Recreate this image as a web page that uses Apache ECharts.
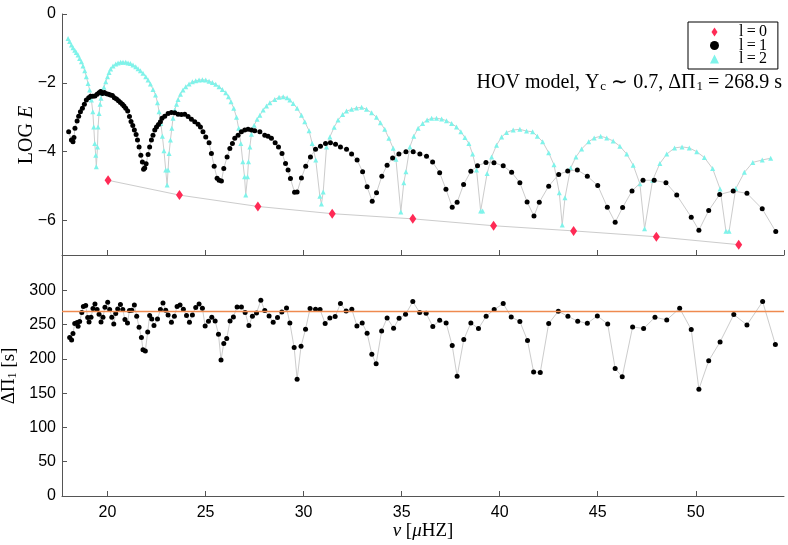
<!DOCTYPE html>
<html>
<head>
<meta charset="utf-8">
<script src="https://cdn.jsdelivr.net/npm/echarts@6/dist/echarts.min.js"></script>
<style>
  html, body { margin: 0; padding: 0; background: #fff; }
  #main { width: 788px; height: 545px; }
</style>
</head>
<body>
<div id="main"></div>
<script>
// l=0 modes
var nu0 = [20.03, 23.67, 27.67, 31.46, 35.57, 39.69, 43.77, 47.99, 52.19];
var logE0 = [-4.83, -5.26, -5.59, -5.80, -5.95, -6.15, -6.30, -6.47, -6.70];

// l=1 modes
var nu1 = [18.02, 18.16, 18.24, 18.29, 18.34, 18.45, 18.53, 18.62, 18.72, 18.82,
  18.92, 19.04, 19.14, 19.25, 19.36, 19.47, 19.57, 19.65, 19.74, 19.84,
  19.95, 20.05, 20.15, 20.25, 20.35, 20.46, 20.56, 20.66, 20.76, 20.84,
  20.93, 21.03, 21.12, 21.20, 21.29, 21.37, 21.46, 21.53, 21.61, 21.70,
  21.78, 21.84, 21.90, 21.97, 22.07, 22.15, 22.24, 22.32, 22.41, 22.50,
  22.60, 22.70, 22.78, 22.92, 23.09, 23.26, 23.43, 23.60, 23.77, 23.94,
  24.11, 24.28, 24.45, 24.62, 24.74, 24.87, 25.01, 25.18, 25.30, 25.44,
  25.59, 25.69, 25.81, 25.93, 26.10, 26.24, 26.37, 26.49, 26.66, 26.83,
  27.00, 27.17, 27.34, 27.51, 27.77, 28.02, 28.19, 28.36, 28.55, 28.72,
  28.90, 29.08, 29.21, 29.33, 29.54, 29.67, 29.89, 30.11, 30.35, 30.61,
  30.86, 31.12, 31.37, 31.63, 31.88, 32.19, 32.45, 32.73, 33.01, 33.24,
  33.50, 33.72, 33.99, 34.26, 34.54, 34.86, 35.22, 35.59, 35.93, 36.27,
  36.58, 36.94, 37.26, 37.58, 37.83, 38.16, 38.53, 38.87, 39.30, 39.71,
  40.18, 40.61, 41.03, 41.40, 41.75, 42.02, 42.50, 43.01, 43.47, 43.96,
  44.47, 45.00, 45.49, 45.89, 46.27, 46.75, 47.31, 47.88, 48.48, 49.03,
  49.77, 50.16, 50.66, 51.22, 51.91, 52.61, 53.39, 54.08];
var logE1 = [-3.42, -3.66, -3.71, -3.59, -3.32, -3.11, -2.97, -2.84, -2.74, -2.62,
  -2.50, -2.43, -2.39, -2.39, -2.38, -2.33, -2.29, -2.25, -2.31, -2.28,
  -2.32, -2.33, -2.35, -2.37, -2.43, -2.47, -2.52, -2.57, -2.62, -2.67,
  -2.74, -2.82, -2.98, -3.12, -3.24, -3.37, -3.50, -3.66, -3.86, -4.10,
  -4.30, -4.51, -4.47, -4.35, -4.08, -3.86, -3.66, -3.52, -3.37, -3.28,
  -3.21, -3.13, -3.03, -2.97, -2.89, -2.86, -2.87, -2.91, -2.92, -2.91,
  -2.98, -3.06, -3.13, -3.20, -3.28, -3.42, -3.57, -3.74, -4.05, -4.42,
  -4.77, -4.83, -4.85, -4.49, -4.15, -3.91, -3.76, -3.61, -3.52, -3.42,
  -3.37, -3.35, -3.37, -3.39, -3.42, -3.52, -3.55, -3.61, -3.74, -3.86,
  -4.05, -4.34, -4.53, -4.78, -5.18, -5.17, -4.76, -4.42, -4.15, -3.93,
  -3.84, -3.76, -3.74, -3.78, -3.86, -3.93, -4.07, -4.24, -4.58, -5.02,
  -5.44, -5.19, -4.71, -4.39, -4.18, -4.07, -4.00, -4.00, -4.07, -4.13,
  -4.30, -4.61, -5.09, -5.61, -5.47, -4.95, -4.57, -4.41, -4.31, -4.32,
  -4.41, -4.60, -4.90, -5.46, -5.87, -5.47, -5.00, -4.66, -4.56, -4.53,
  -4.71, -4.98, -5.61, -6.05, -5.62, -5.14, -4.83, -4.83, -4.90, -5.26,
  -5.90, -6.28, -5.71, -5.24, -5.14, -5.21, -5.66, -6.32];

// l=2 modes
var nu2 = [17.99, 18.07, 18.16, 18.24, 18.33, 18.41, 18.50, 18.58, 18.67, 18.75,
  18.84, 18.92, 19.01, 19.09, 19.18, 19.25, 19.30, 19.35, 19.40, 19.43,
  19.49, 19.52, 19.57, 19.62, 19.67, 19.74, 19.82, 19.91, 20.00, 20.08,
  20.16, 20.28, 20.42, 20.54, 20.67, 20.79, 20.93, 21.05, 21.17, 21.30,
  21.44, 21.56, 21.68, 21.81, 21.95, 22.07, 22.19, 22.32, 22.45, 22.55,
  22.63, 22.72, 22.80, 22.88, 22.97, 23.04, 23.09, 23.14, 23.21, 23.28,
  23.34, 23.43, 23.52, 23.60, 23.72, 23.85, 23.99, 24.16, 24.33, 24.50,
  24.67, 24.84, 25.01, 25.18, 25.35, 25.52, 25.69, 25.86, 26.03, 26.17,
  26.30, 26.44, 26.58, 26.69, 26.80, 26.90, 26.99, 27.05, 27.14, 27.19,
  27.26, 27.34, 27.48, 27.63, 27.77, 27.94, 28.11, 28.28, 28.53, 28.75,
  28.96, 29.16, 29.30, 29.47, 29.67, 29.89, 30.06, 30.28, 30.44, 30.62,
  30.83, 30.91, 31.00, 31.17, 31.34, 31.56, 31.76, 31.99, 32.19, 32.45,
  32.70, 32.96, 33.21, 33.47, 33.72, 33.92, 34.14, 34.35, 34.57, 34.71,
  34.96, 35.11, 35.22, 35.42, 35.62, 35.84, 36.07, 36.30, 36.53, 36.78,
  37.04, 37.29, 37.55, 37.80, 38.02, 38.23, 38.43, 38.62, 38.82, 39.03,
  39.13, 39.36, 39.59, 39.84, 40.10, 40.35, 40.69, 41.03, 41.37, 41.68,
  41.92, 42.19, 42.50, 42.77, 43.04, 43.19, 43.33, 43.62, 43.89, 44.18,
  44.54, 44.82, 45.15, 45.46, 45.79, 46.13, 46.48, 46.81, 47.15, 47.39,
  47.80, 48.17, 48.52, 48.92, 49.30, 49.67, 50.05, 50.44, 50.86, 51.24,
  51.54, 51.70, 52.04, 52.48, 52.91, 53.39, 53.82];
var logE2 = [-0.71, -0.80, -0.90, -0.98, -1.05, -1.12, -1.19, -1.29, -1.39, -1.51,
  -1.65, -1.82, -2.02, -2.21, -2.50, -2.84, -3.28, -3.76, -4.10, -4.44,
  -3.86, -3.28, -2.89, -2.62, -2.45, -2.31, -2.13, -1.97, -1.82, -1.70,
  -1.60, -1.51, -1.45, -1.42, -1.40, -1.40, -1.40, -1.42, -1.44, -1.48,
  -1.53, -1.59, -1.65, -1.72, -1.82, -1.92, -2.03, -2.19, -2.35, -2.58,
  -2.84, -3.18, -3.55, -3.97, -4.53, -4.97, -4.53, -4.05, -3.66, -3.32,
  -3.03, -2.79, -2.62, -2.48, -2.33, -2.21, -2.11, -2.03, -1.97, -1.94,
  -1.92, -1.91, -1.92, -1.95, -1.99, -2.04, -2.11, -2.19, -2.29, -2.40,
  -2.55, -2.74, -3.00, -3.32, -3.76, -4.29, -4.73, -5.26, -4.73, -4.29,
  -3.86, -3.49, -3.23, -3.06, -2.94, -2.79, -2.67, -2.58, -2.48, -2.42,
  -2.40, -2.43, -2.50, -2.60, -2.74, -2.94, -3.13, -3.39, -3.76, -4.24,
  -5.29, -5.52, -5.17, -3.86, -3.57, -3.29, -3.08, -2.92, -2.82, -2.77,
  -2.73, -2.71, -2.77, -2.87, -3.00, -3.16, -3.35, -3.61, -3.90, -4.22,
  -5.75, -4.90, -4.58, -3.86, -3.55, -3.32, -3.18, -3.08, -3.03, -3.03,
  -3.05, -3.10, -3.18, -3.28, -3.42, -3.59, -3.76, -4.07, -4.53, -5.72,
  -5.72, -4.63, -4.15, -3.81, -3.57, -3.44, -3.37, -3.35, -3.40, -3.42,
  -3.55, -3.71, -4.03, -4.38, -5.19, -6.13, -5.34, -4.47, -4.15, -3.92,
  -3.71, -3.60, -3.55, -3.60, -3.69, -3.84, -4.07, -4.39, -4.93, -6.24,
  -4.83, -4.34, -4.07, -3.89, -3.86, -3.89, -4.00, -4.17, -4.49, -5.08,
  -6.31, -6.31, -5.07, -4.60, -4.31, -4.24, -4.19];

// period spacing of the l=1 modes
var nuP = [18.07, 18.17, 18.24, 18.33, 18.45, 18.50, 18.58, 18.69, 18.77, 18.89,
  18.99, 19.06, 19.16, 19.26, 19.36, 19.47, 19.57, 19.67, 19.77, 19.87,
  20.01, 20.11, 20.22, 20.32, 20.42, 20.52, 20.66, 20.78, 20.89, 21.02,
  21.12, 21.24, 21.37, 21.49, 21.61, 21.73, 21.81, 21.93, 22.05, 22.15,
  22.26, 22.37, 22.55, 22.70, 22.83, 22.97, 23.09, 23.26, 23.41, 23.55,
  23.70, 23.87, 24.03, 24.18, 24.33, 24.50, 24.67, 24.84, 24.98, 25.15,
  25.32, 25.49, 25.66, 25.79, 25.93, 26.08, 26.25, 26.42, 26.61, 26.83,
  27.02, 27.21, 27.39, 27.60, 27.82, 28.02, 28.24, 28.45, 28.67, 28.89,
  29.13, 29.30, 29.52, 29.67, 29.87, 30.10, 30.33, 30.61, 30.84, 31.10,
  31.34, 31.61, 31.88, 32.17, 32.46, 32.72, 32.99, 33.24, 33.48, 33.70,
  33.98, 34.26, 34.59, 34.87, 35.20, 35.57, 35.92, 36.25, 36.59, 36.94,
  37.27, 37.58, 37.83, 38.17, 38.53, 38.92, 39.31, 39.72, 40.18, 40.59,
  41.03, 41.42, 41.73, 42.07, 42.50, 42.99, 43.48, 43.98, 44.47, 44.98,
  45.51, 45.89, 46.25, 46.78, 47.34, 47.92, 48.52, 49.18, 49.77, 50.16,
  50.66, 51.24, 51.94, 52.61, 53.41, 54.06];
var dP1 = [231.1, 227.6, 236.9, 251.5, 253.0, 247.6, 254.4, 267.5, 276.2, 277.7,
  260.2, 253.8, 260.7, 273.3, 280.0, 271.9, 265.0, 253.8, 260.7, 275.2,
  282.5, 271.9, 260.7, 250.9, 266.0, 272.8, 279.1, 271.9, 257.3, 252.4,
  270.4, 270.9, 278.6, 262.1, 246.1, 231.1, 213.1, 211.6, 239.3, 263.1,
  258.2, 248.5, 258.2, 271.9, 281.5, 270.9, 264.1, 253.4, 262.1, 276.2,
  278.6, 272.3, 263.1, 253.4, 264.1, 274.8, 280.0, 273.8, 248.0, 254.8,
  260.7, 255.3, 235.9, 198.5, 222.4, 229.6, 255.3, 261.1, 275.7, 275.7,
  267.5, 248.5, 262.1, 267.0, 285.4, 270.4, 262.6, 253.4, 260.2, 268.4,
  274.2, 252.4, 216.5, 170.4, 218.4, 243.2, 273.3, 272.3, 271.9, 251.5,
  259.7, 261.7, 280.6, 269.9, 272.3, 248.0, 252.4, 237.4, 206.8, 192.7,
  240.7, 259.7, 244.7, 259.2, 265.0, 283.5, 267.5, 266.5, 247.1, 256.3,
  252.4, 219.4, 174.7, 228.2, 252.4, 244.2, 262.1, 271.9, 280.6, 261.1,
  254.4, 226.7, 181.0, 180.1, 251.5, 269.4, 262.1, 254.8, 251.9, 262.6,
  250.9, 185.9, 173.8, 246.6, 244.2, 260.7, 256.8, 273.8, 242.7, 155.8,
  197.1, 224.7, 264.6, 249.5, 283.5, 220.9];
var dPmean = 268.9;

function pairs(xs, ys) {
  return xs.map(function (x, i) { return [x, ys[i]]; });
}

var myChart = echarts.init(document.getElementById('main'), null, { renderer: 'canvas' });

var serif = 'Liberation Serif';
var sans = 'Liberation Sans';
var axisGrey = '#555555';
var lineGrey = '#cccccc';

function minus(v) {
  return v < 0 ? '\u2212' + (-v) : String(v);
}

var option = {
  animation: false,
  backgroundColor: '#ffffff',
  grid: [
    { left: 62, right: 4, top: 14, height: 241, containLabel: false, outerBoundsMode: 'none' },
    { left: 62, right: 4, top: 256, height: 240, containLabel: false, outerBoundsMode: 'none' }
  ],
  legend: {
    data: [
      { name: 'l=0', icon: 'path://M0,-3L2,0L0,3L-2,0Z' },
      { name: 'l=1', icon: 'circle' },
      { name: 'l=2', icon: 'triangle' }
    ],
    formatter: function (name) { return name.replace('=', '\u2009=\u2009'); },
    orient: 'vertical',
    left: 688,
    top: 22,
    padding: [2, 11, 2, 22],
    itemGap: -2.5,
    itemWidth: 9,
    itemHeight: 9,
    borderColor: '#000',
    borderWidth: 1,
    borderRadius: 0,
    backgroundColor: '#fff',
    textStyle: { fontFamily: serif, fontSize: 16, color: '#000', lineHeight: 14, padding: [0, 0, 0, 15] }
  },
  graphic: [
    {
      type: 'text',
      right: 6,
      top: 73,
      style: {
        text: 'HOV model, Y{sub|c} \u223c 0.7, \u0394\u03a0{sub|1} = 268.9 s',
        fontFamily: serif,
        fontSize: 20,
        fill: '#000',
        rich: {
          sub: { fontSize: 13, fontFamily: serif, verticalAlign: 'bottom', padding: [7, 0, 0, 1] }
        }
      }
    },
    {
      // y title of the upper panel
      type: 'text',
      x: 27,
      y: 135,
      rotation: Math.PI / 2,
      style: {
        text: 'LOG {i|E}',
        fontFamily: serif,
        fontSize: 20,
        fill: '#000',
        align: 'center',
        verticalAlign: 'middle',
        rich: { i: { fontStyle: 'italic', fontFamily: serif, fontSize: 20 } }
      }
    }
  ],
  xAxis: [
    {
      type: 'value', gridIndex: 0, min: 17.68, max: 54.5, splitNumber: 7,
      axisLine: { onZero: false, lineStyle: { color: axisGrey } },
      axisTick: { inside: true, length: 5, lineStyle: { color: axisGrey } },
      axisLabel: { show: false },
      splitLine: { show: false }
    },
    {
      type: 'value', gridIndex: 1, min: 17.68, max: 54.5, splitNumber: 7,
      axisLine: { onZero: false, lineStyle: { color: axisGrey } },
      axisTick: { inside: true, length: 5, lineStyle: { color: axisGrey } },
      axisLabel: { fontFamily: sans, fontSize: 16, color: '#000', margin: 9,
                   showMinLabel: false, showMaxLabel: false },
      splitLine: { show: false },
      name: '{i|\u03bd} [{i|\u03bc}HZ]',
      nameLocation: 'middle',
      nameGap: 25,
      nameTextStyle: {
        fontFamily: serif, fontSize: 19, color: '#000',
        rich: { i: { fontStyle: 'italic', fontFamily: serif, fontSize: 19 } }
      }
    }
  ],
  yAxis: [
    {
      type: 'value', gridIndex: 0, min: -7, max: 0, splitNumber: 4,
      axisLine: { show: true, onZero: false, lineStyle: { color: axisGrey } },
      axisTick: { show: true, inside: true, length: 5, lineStyle: { color: axisGrey } },
      axisLabel: {
        fontFamily: sans, fontSize: 16, color: '#000', margin: 6, showMinLabel: false,
        formatter: function (v) { return v % 2 === 0 ? minus(v) : ''; }
      },
      splitLine: { show: false }
    },
    {
      type: 'value', gridIndex: 1, min: 0, max: 350, interval: 50,
      axisLine: { show: true, onZero: false, lineStyle: { color: axisGrey } },
      axisTick: { show: true, inside: true, length: 5, lineStyle: { color: axisGrey } },
      axisLabel: { fontFamily: sans, fontSize: 16, color: '#000', margin: 6, showMaxLabel: false },
      splitLine: { show: false },
      name: '\u0394\u03a0{s|1} [s]',
      nameLocation: 'middle',
      nameGap: 39,
      nameTextStyle: {
        fontFamily: serif, fontSize: 19, color: '#000',
        rich: { s: { fontFamily: serif, fontSize: 12, verticalAlign: 'bottom', padding: [6, 0, 0, 0] } }
      }
    }
  ],
  series: [
    {
      name: 'l=2', type: 'line', xAxisIndex: 0, yAxisIndex: 0,
      data: pairs(nu2, logE2),
      symbol: 'triangle', symbolSize: 5,
      itemStyle: { color: '#7ff3ea' },
      lineStyle: { color: lineGrey, width: 1 },
      z: 2
    },
    {
      name: 'l=1', type: 'line', xAxisIndex: 0, yAxisIndex: 0,
      data: pairs(nu1, logE1),
      symbol: 'circle', symbolSize: 5,
      itemStyle: { color: '#000000' },
      lineStyle: { color: lineGrey, width: 1 },
      z: 3
    },
    {
      name: 'l=0', type: 'line', xAxisIndex: 0, yAxisIndex: 0,
      data: pairs(nu0, logE0),
      symbol: 'diamond', symbolSize: [7, 10],
      itemStyle: { color: '#ff2a55' },
      lineStyle: { color: lineGrey, width: 1 },
      z: 4
    },
    {
      name: 'spacing', type: 'line', xAxisIndex: 1, yAxisIndex: 1,
      data: pairs(nuP, dP1),
      symbol: 'circle', symbolSize: 5,
      itemStyle: { color: '#000000' },
      lineStyle: { color: lineGrey, width: 1 },
      markLine: {
        silent: true, symbol: 'none', label: { show: false },
        lineStyle: { color: '#ef8a4f', width: 1.3, type: 'solid' },
        data: [{ yAxis: dPmean }]
      },
      z: 3
    }
  ]
};

myChart.setOption(option);
</script>
</body>
</html>
